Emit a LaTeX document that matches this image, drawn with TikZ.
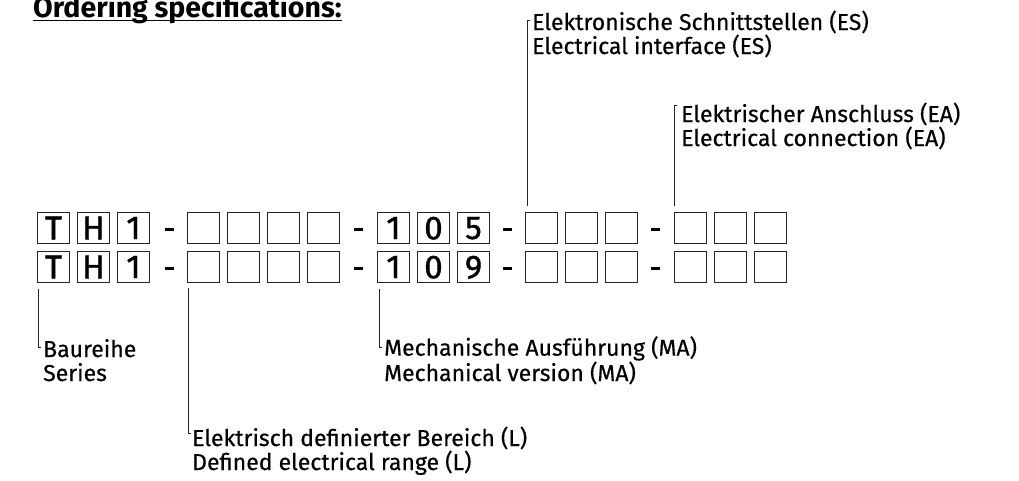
\documentclass[tikz,border=0pt]{standalone}
\usepackage{fontspec}
\setmainfont{Fira Sans}
\newfontfamily\boxfont[FakeBold=1.2]{Fira Sans}
\newfontfamily\labfont[FakeBold=0.4]{Fira Sans}
\begin{document}
\begin{tikzpicture}[x=1pt,y=-1pt,
  cbox/.style={draw=black!85,line width=1.3pt,minimum width=32pt,minimum height=30.5pt,inner sep=0pt,
    font=\boxfont\fontsize{33}{33}\selectfont,text depth=0pt},
  dashbar/.style={fill=black,minimum width=9pt,minimum height=3pt,inner sep=0pt,draw=none},
  lab/.style={font=\labfont\fontsize{23}{24}\selectfont,align=left,anchor=base west,inner sep=0pt},
  conn/.style={line width=1pt,black!85}]
\useasboundingbox (0,0) rectangle (1019,480);
\clip (0,0) rectangle (1019,480);
% title
\node[font=\bfseries\fontsize{28.5}{28.5}\selectfont,anchor=base west,inner sep=0pt] (title) at (33,17) {Ordering specifications:};
\draw[line width=1.6pt] (title.base west)++(0,3.5) coordinate (ul1) -- (title.base east |- ul1);
% boxes
\foreach \r/\y/\c in {1/228/5,2/267/9}{
  \node[cbox] (b\r-1) at (53.5,\y) {T};
  \node[cbox] (b\r-2) at (93.5,\y) {H};
  \node[cbox] (b\r-3) at (133.5,\y) {1};
  \node[dashbar] (d\r-1) at (169,\y+1) {};
  \node[cbox] (b\r-4) at (203.5,\y) {};
  \node[cbox] (b\r-5) at (243.5,\y) {};
  \node[cbox] (b\r-6) at (283.5,\y) {};
  \node[cbox] (b\r-7) at (323.5,\y) {};
  \node[dashbar] (d\r-2) at (358,\y+1) {};
  \node[cbox] (b\r-8) at (393.5,\y) {1};
  \node[cbox] (b\r-9) at (433.5,\y) {0};
  \node[cbox] (b\r-10) at (473.5,\y) {\c};
  \node[dashbar] (d\r-3) at (507,\y+1) {};
  \node[cbox] (b\r-11) at (541.5,\y) {};
  \node[cbox] (b\r-12) at (581.5,\y) {};
  \node[cbox] (b\r-13) at (621.5,\y) {};
  \node[dashbar] (d\r-4) at (655,\y+1) {};
  \node[cbox] (b\r-14) at (690.5,\y) {};
  \node[cbox] (b\r-15) at (730.5,\y) {};
  \node[cbox] (b\r-16) at (770.5,\y) {};
}
% labels (anchor at the baseline of the last line)
\node[lab] (es) at (532,54) {Elektronische Schnittstellen (ES)\\Electrical interface (ES)};
\node[lab] (ea) at (681,146) {Elektrischer Anschluss (EA)\\Electrical connection (EA)};
\node[lab] (br) at (43,381) {Baureihe\\Series};
\node[lab] (ma) at (384,381) {Mechanische Ausführung (MA)\\Mechanical version (MA)};
\node[lab] (el) at (192,470) {Elektrisch definierter Bereich (L)\\Defined electrical range (L)};
% connectors
\coordinate (ces) at (527,20);
\coordinate (cea) at (674,105);
\coordinate (cbr) at (38,347);
\coordinate (cma) at (379,347);
\coordinate (cel) at (188,433);
\draw[conn] (b1-11.north west -| ces) ++(0,-6) -- (ces) -- ++(2.5,0);
\draw[conn] (b1-14.north west -| cea) ++(0,-6) -- (cea) -- ++(2.5,0);
\draw[conn] (b2-1.south west -| cbr) ++(0,6) -- (cbr) -- ++(2.5,0);
\draw[conn] (b2-8.south west -| cma) ++(0,6) -- (cma) -- ++(2.5,0);
\draw[conn] (b2-4.south west -| cel) ++(0,5) -- (cel) -- ++(2.5,0);
\end{tikzpicture}
\end{document}
